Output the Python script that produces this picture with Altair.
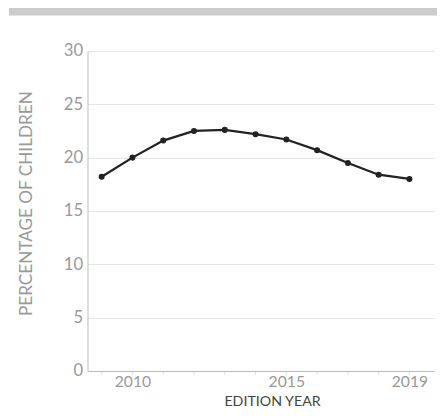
import altair as alt
import pandas as pd

years = [2009, 2010, 2011, 2012, 2013, 2014, 2015, 2016, 2017, 2018, 2019]
percent = [18.2, 20.0, 21.6, 22.5, 22.6, 22.2, 21.7, 20.7, 19.5, 18.4, 18.0]
x_labels = [2010, 2015, 2019]
y_ticks = [0, 5, 10, 15, 20, 25, 30]

df = pd.DataFrame({"year": years, "pct": percent})

FONT = "Lato"
W, H = 353, 326

x_scale = alt.Scale(domain=[2008.54, 2019.8], nice=False, zero=False)

x_enc = alt.X(
    "year:Q",
    scale=x_scale,
    axis=alt.Axis(
        title="EDITION YEAR",
        values=x_labels,
        format="d",
        labelOverlap=False,
        labelFlush=False,
        grid=False,
        domainColor="#bbbbbb",
        ticks=False,
        labelColor="#999999",
        labelFontSize=16,
        labelFont=FONT,
        labelFontWeight=400,
        labelPadding=3,
        labelBaseline="top",
        titleColor="#444444",
        titleFont=FONT,
        titleFontSize=14.5,
        titleFontWeight=400,
        titleX=188,
        titleY=24,
        titleBaseline="top",
    ),
)
y_enc = alt.Y(
    "pct:Q",
    scale=alt.Scale(domain=[0, 30], nice=False),
    axis=alt.Axis(
        title="PERCENTAGE OF CHILDREN",
        values=y_ticks,
        grid=True,
        gridColor="#e3e3e3",
        ticks=False,
        domainColor="#bbbbbb",
        labelColor="#999999",
        labelFontSize=17,
        labelFont=FONT,
        labelFontWeight=400,
        labelPadding=5,
        titleColor="#999999",
        titleFont=FONT,
        titleFontSize=17.5,
        titleFontWeight=400,
        titlePadding=28,
        titleY=155,
    ),
)

base = alt.Chart(df)
line = base.mark_line(color="#222222", strokeWidth=2.3).encode(x=x_enc, y=y_enc)
pts = base.mark_point(filled=True, color="#222222", size=38, opacity=1).encode(x="year:Q", y="pct:Q")
minor = base.mark_rule(color="#dddddd", strokeWidth=1).encode(
    x="year:Q", y=alt.value(H + 1), y2=alt.value(H + 4)
)

bar = alt.Chart(pd.DataFrame({"a": [0]})).mark_rule(color="#cccccc", strokeWidth=8).encode(
    x=alt.value(-80), x2=alt.value(W + 5), y=alt.value(-40)
)

chart = alt.layer(minor, line, pts, bar).properties(
    width=W,
    height=H,
    autosize=alt.AutoSizeParams(type="none"),
    padding={"left": 81, "top": 40, "right": 3, "bottom": 36},
).configure_view(stroke=None)

chart.save("out.html", embed_options={"renderer": "svg", "actions": False})
